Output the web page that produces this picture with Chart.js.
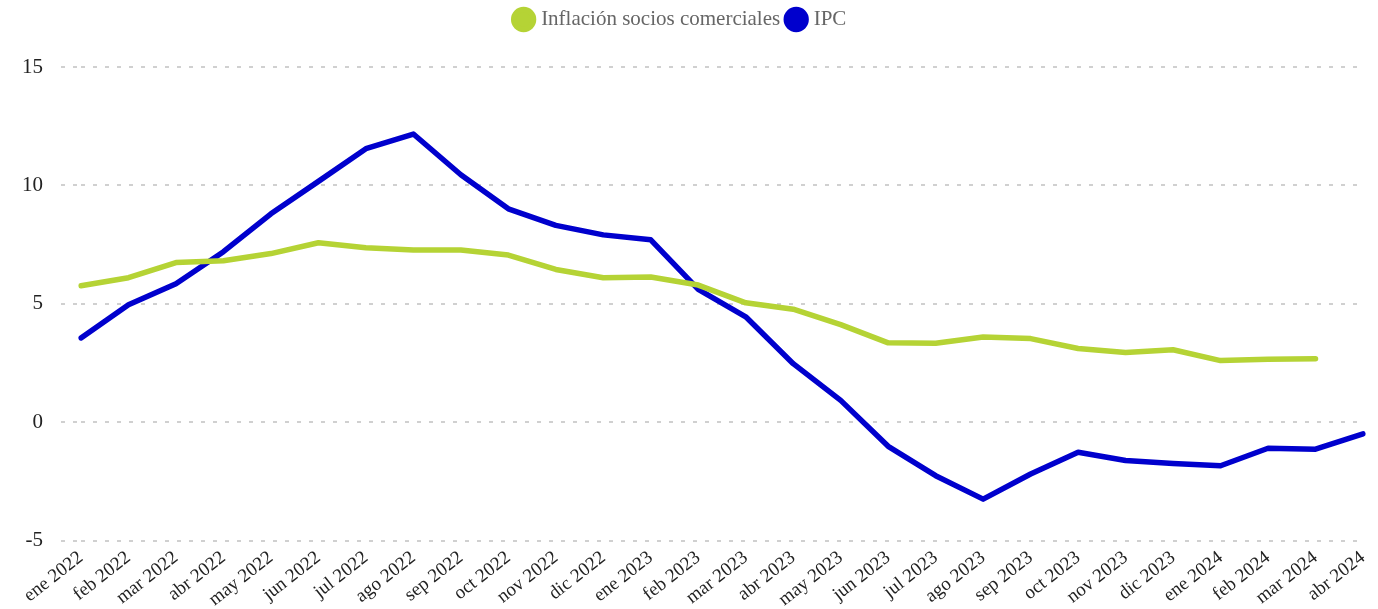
<!DOCTYPE html>
<html><head><meta charset="utf-8">
<script src="https://cdn.jsdelivr.net/npm/chart.js@4"></script>
<style>html,body{margin:0;padding:0;background:#fff}#wrap{width:1378px;height:609px}</style>
</head><body><div id="wrap"><canvas id="c"></canvas></div>
<script>
const categories = ["ene 2022","feb 2022","mar 2022","abr 2022","may 2022","jun 2022","jul 2022","ago 2022","sep 2022","oct 2022","nov 2022","dic 2022","ene 2023","feb 2023","mar 2023","abr 2023","may 2023","jun 2023","jul 2023","ago 2023","sep 2023","oct 2023","nov 2023","dic 2023","ene 2024","feb 2024","mar 2024","abr 2024"];
const sociosComerciales = [5.76,6.10,6.74,6.82,7.12,7.58,7.37,7.27,7.27,7.06,6.45,6.10,6.13,5.79,5.04,4.77,4.12,3.35,3.33,3.60,3.53,3.11,2.94,3.06,2.60,2.66,2.68,null];
const ipc = [3.56,4.96,5.85,7.20,8.80,10.17,11.55,12.17,10.45,9.01,8.31,7.91,7.70,5.61,4.45,2.47,0.92,-1.02,-2.26,-3.25,-2.19,-1.27,-1.62,-1.74,-1.84,-1.10,-1.14,-0.49];
const yTicks = [-5,0,5,10,15];

const font = "'Liberation Serif', 'Times New Roman', serif";
const legendMargin = {
  id: 'legendMargin',
  beforeInit(chart) {
    const fit = chart.legend.fit;
    chart.legend.fit = function () { fit.call(this); this.height += 27; };
  }
};
new Chart(document.getElementById('c'), {
  type: 'line',
  data: {
    labels: categories,
    datasets: [
      {label: 'Inflación socios comerciales', data: sociosComerciales, borderColor: '#b5d335', backgroundColor: '#b5d335', borderWidth: 5.5, borderCapStyle: 'round', borderJoinStyle: 'round', pointRadius: 0, tension: 0},
      {label: 'IPC', data: ipc, borderColor: '#0000cd', backgroundColor: '#0000cd', borderWidth: 5.5, borderCapStyle: 'round', borderJoinStyle: 'round', pointRadius: 0, tension: 0}
    ]
  },
  plugins: [legendMargin],
  options: {
    responsive: true, maintainAspectRatio: false, animation: false,
    layout: {padding: {left: 0, right: 15, top: 0, bottom: 0}},
    plugins: {
      legend: {position: 'top', labels: {usePointStyle: true, pointStyle: 'circle', boxWidth: 14, boxHeight: 14, padding: 9, color: '#666', font: {family: font, size: 21}}},
      tooltip: {enabled: false}
    },
    scales: {
      x: {
        grid: {display: false}, border: {display: false},
        ticks: {color: '#222', font: {family: font, size: 19}, minRotation: 38, maxRotation: 38, autoSkip: false, padding: -2}
      },
      y: {
        min: -5, max: 15,
        afterBuildTicks: (ax) => { ax.ticks = yTicks.map(v => ({value: v})); },
        afterFit: (ax) => { ax.width = 81; },
        grid: {color: '#d0d0d0', lineWidth: 2, drawTicks: true, tickLength: 20, tickColor: '#d0d0d0', tickBorderDash: [4, 8]},
        border: {display: false, dash: [4, 8]},
        ticks: {color: '#222', font: {family: font, size: 21}, padding: 18}
      }
    }
  }
});
</script></body></html>
